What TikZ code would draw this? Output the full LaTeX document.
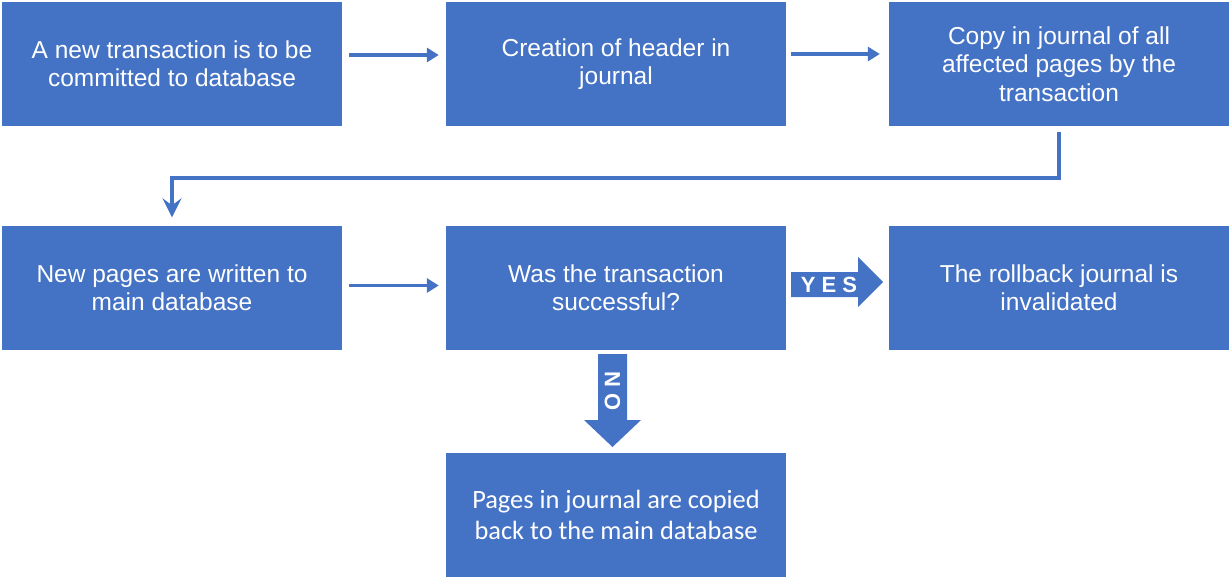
\documentclass[tikz,border=0pt]{standalone}
\usepackage{fontspec}
\setmainfont{Liberation Sans}
\newfontfamily\calib{Carlito}
\usetikzlibrary{arrows.meta}
\definecolor{blu}{HTML}{4472C4}
\begin{document}
\begin{tikzpicture}[x=1pt,y=-1pt,
 box/.style={fill=blu, text=white, minimum width=340, minimum height=124, align=center, inner sep=0,
   font=\fontsize{24.5}{28.3}\selectfont},
 conn/.style={draw=blu, line width=3.6, -{Triangle[length=12,width=14]}},
 downconn/.style={draw=blu, line width=3.2, -{Stealth[length=19,width=19,inset=7]}},
 blockarrow/.style={fill=blu},
 lbl/.style={text=white, inner sep=0, font=\fontsize{22}{22}\selectfont\bfseries\addfontfeatures{LetterSpace=28}},
]
\useasboundingbox (0,0) rectangle (1230,579);
\node[box] (b1) at (172,64) {A new transaction is to be\\committed to database};
\node[box] (b2) at (616,64) {Creation of header in\\journal};
\node[box] (b3) at (1059,64) {Copy in journal of all\\affected pages by the\\transaction};
\node[box] (b4) at (172,287.5) {New pages are written to\\main database};
\node[box] (b5) at (616,287.5) {Was the transaction\\successful?};
\node[box] (b6) at (1059,287.5) {The rollback journal is\\invalidated};
\node[box, font=\calib\fontsize{26.4}{31}\selectfont] (b7) at (616,514.5) {Pages in journal are copied\\back to the main database};

\draw[conn, shorten <=7, shorten >=7] ([yshift=9]b1.east) -- ([yshift=9]b1.east -| b2.west);
\draw[conn, shorten <=5, shorten >=9] ([yshift=10]b2.east) -- ([yshift=10]b2.east -| b3.west);
\draw[conn, shorten <=7, shorten >=7] ([yshift=2]b4.east) -- ([yshift=2]b4.east -| b5.west);
\coordinate (turn) at (1059,178);
\draw[downconn, shorten <=6, shorten >=8] (b3.south) -- (turn) -| (b4.north);

% YES block arrow
\fill[blockarrow] (791,272) -- (858,272) -- (858,257) -- (883,282) -- (858,307) -- (858,297) -- (791,297) -- cycle;
\node[lbl] (yes) at (829,284.5) {YES};
% NO block arrow
\fill[blockarrow] (598,354) -- (627,354) -- (627,420) -- (641,420) -- (612.5,447) -- (584,420) -- (598,420) -- cycle;
\node[lbl, rotate=-90] (no) at (612.5,391) {NO};
\end{tikzpicture}
\end{document}
